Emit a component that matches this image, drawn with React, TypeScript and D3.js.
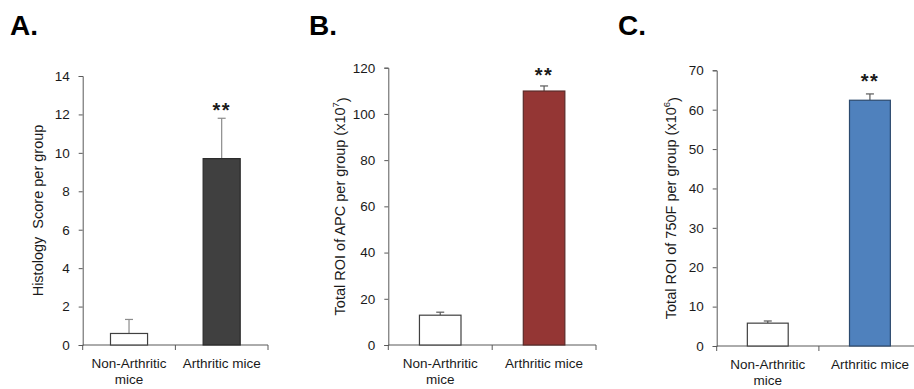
import React, { useRef, useEffect } from 'react';
import * as d3 from 'd3';

// Group labels (split into lines as in the figure)
const groups = ['Non-Arthritic mice', 'Arthritic mice'];
const groupLines = [['Non-Arthritic', 'mice'], ['Arthritic mice']];

// Panel A - histology score
const histologyMean = [0.6, 9.7];
const histologyErr = [0.73, 2.1];
const histologyTicks = [0, 2, 4, 6, 8, 10, 12, 14];

// Panel B - APC ROI (x10^7)
const apcMean = [12.9, 109.9];
const apcErr = [1.3, 2.2];
const apcTicks = [0, 20, 40, 60, 80, 100, 120];

// Panel C - 750F ROI (x10^6)
const f750Mean = [5.8, 62.4];
const f750Err = [0.55, 1.6];
const f750Ticks = [0, 10, 20, 30, 40, 50, 60, 70];

const significance = ['', '**'];

const FONT = '"Liberation Sans", Arial, sans-serif';
const AXIS = '#595959';

type Panel = {
  letter: string;
  letterX: number;
  mean: number[];
  err: number[];
  ticks: number[];
  yMax: number;
  xRange: [number, number];
  yRange: [number, number];
  fill: string;
  stroke: string;
  errColor: string;
  title: string;
  sup?: string;
  titleX: number;
  starDy: number;
};

const panels: Panel[] = [
  {
    letter: 'A.', letterX: 10, mean: histologyMean, err: histologyErr, ticks: histologyTicks, yMax: 14,
    xRange: [82.7, 268], yRange: [345, 76], fill: '#404040', stroke: '#2a2a2a', errColor: '#8c8c8c',
    title: 'Histology  Score per group', titleX: 38, starDy: -1,
  },
  {
    letter: 'B.', letterX: 309, mean: apcMean, err: apcErr, ticks: apcTicks, yMax: 120,
    xRange: [388.3, 596], yRange: [345, 67.7], fill: '#943634', stroke: '#5a2a28', errColor: '#595959',
    title: 'Total ROI of APC per group (x10', sup: '7', titleX: 340, starDy: -4,
  },
  {
    letter: 'C.', letterX: 618, mean: f750Mean, err: f750Err, ticks: f750Ticks, yMax: 70,
    xRange: [716.7, 921], yRange: [346, 70.3], fill: '#4F81BD', stroke: '#2c4a6e', errColor: '#595959',
    title: 'Total ROI of 750F per group (x10', sup: '6', titleX: 671, starDy: -6,
  },
];

export default function App() {
  const svgRef = useRef<SVGSVGElement>(null);

  useEffect(() => {
    const svg = d3.select(svgRef.current);
    svg.selectAll('*').remove();

    panels.forEach(p => {
      const g = svg.append('g').attr('font-family', FONT);
      const x = d3.scaleBand().domain(groups).range(p.xRange).paddingInner(0.6).paddingOuter(0.3);
      const y = d3.scaleLinear().domain([0, p.yMax]).range(p.yRange);
      const y0 = y(0);

      // panel letter
      g.append('text')
        .attr('x', p.letterX).attr('y', 35)
        .attr('font-size', 28).attr('font-weight', 'bold').attr('fill', '#000')
        .text(p.letter);

      // y axis
      g.append('g')
        .attr('transform', `translate(${p.xRange[0]},0)`)
        .call(d3.axisLeft(y).tickValues(p.ticks).tickSize(4).tickPadding(9))
        .call(a => a.selectAll('path, line').attr('stroke', AXIS))
        .call(a => a.selectAll('text').attr('font-size', 13.5).attr('font-family', FONT).attr('fill', '#1a1a1a'));

      // x axis: baseline with ticks at band boundaries
      const xb = g.append('g').attr('stroke', AXIS);
      xb.append('line').attr('x1', p.xRange[0]).attr('x2', p.xRange[1]).attr('y1', y0).attr('y2', y0);
      const edges = [p.xRange[0], ...groups.map(c => (x(c) as number) - (x.step() - x.bandwidth()) / 2 + x.step()), p.xRange[1]];
      Array.from(new Set(edges.map(e => Math.round(e * 10) / 10))).forEach(e => {
        xb.append('line').attr('x1', e).attr('x2', e).attr('y1', y0).attr('y2', y0 + 5);
      });

      // error bars (upper only)
      groups.forEach((c, i) => {
        const cx = (x(c) as number) + x.bandwidth() / 2;
        const top = y(p.mean[i] + p.err[i]);
        g.append('line').attr('x1', cx).attr('x2', cx).attr('y1', y(p.mean[i])).attr('y2', top)
          .attr('stroke', p.errColor).attr('stroke-width', 1.2);
        g.append('line').attr('x1', cx - 4).attr('x2', cx + 4).attr('y1', top).attr('y2', top)
          .attr('stroke', p.errColor).attr('stroke-width', 1.2);
        if (significance[i]) {
          g.append('text').attr('x', cx).attr('y', top + p.starDy)
            .attr('text-anchor', 'middle').attr('font-size', 20).attr('font-weight', 'bold')
            .attr('letter-spacing', 1.5)
            .attr('fill', '#1a1a1a').text(significance[i]);
        }
      });

      // bars
      g.append('g').selectAll('rect').data(groups).join('rect')
        .attr('x', c => x(c) as number)
        .attr('y', (c, i) => y(p.mean[i]))
        .attr('width', x.bandwidth())
        .attr('height', (c, i) => y0 - y(p.mean[i]))
        .attr('fill', (c, i) => (i === 0 ? '#fff' : p.fill))
        .attr('stroke', (c, i) => (i === 0 ? '#404040' : p.stroke))
        .attr('stroke-width', 1.2);

      // category labels
      groups.forEach((c, i) => {
        const cx = (x(c) as number) + x.bandwidth() / 2;
        const t = g.append('text').attr('text-anchor', 'middle').attr('font-size', 13.5).attr('fill', '#1a1a1a');
        groupLines[i].forEach((line, k) => {
          t.append('tspan').attr('x', cx).attr('y', y0 + 23 + k * 16).text(line);
        });
      });

      // y title
      const cy = (p.yRange[0] + p.yRange[1]) / 2;
      const tt = g.append('text')
        .attr('transform', `translate(${p.titleX},${cy}) rotate(-90)`)
        .attr('text-anchor', 'middle').attr('font-size', 14.5).attr('fill', '#1a1a1a')
        .attr('dy', '0.35em');
      tt.append('tspan').attr('xml:space', 'preserve').text(p.title);
      if (p.sup) {
        tt.append('tspan').attr('font-size', 9.5).attr('dy', '-0.6em').text(p.sup);
        tt.append('tspan').attr('dy', '0.6em').text(')');
      }
    });
  }, []);

  return (
    <svg ref={svgRef} width={914} height={389}
      style={{ position: 'absolute', left: 0, top: 0, background: '#fff' }} />
  );
}
